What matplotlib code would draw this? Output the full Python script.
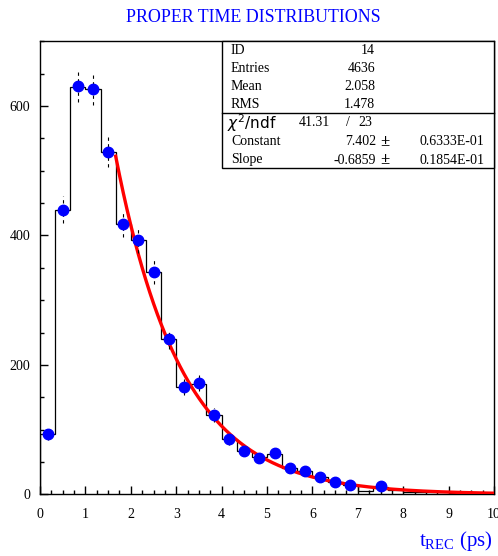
import numpy as np
import matplotlib
matplotlib.use("Agg")
import matplotlib.pyplot as plt
from matplotlib.patches import Rectangle
from matplotlib.ticker import MultipleLocator

plt.rcParams['font.family'] = ['Liberation Serif', 'DejaVu Serif']
plt.rcParams['mathtext.fontset'] = 'stix'

# ---- data ----
bin_edges = np.linspace(0, 10, 31)
hist_counts = [93, 440, 630, 627, 529, 418, 393, 344, 240, 166, 171, 123, 85, 67, 57,
               63, 40, 36, 26, 19, 14, 5, 12, 7, 4, 3, 3, 2, 2, 1]
point_x = [0.167, 0.5, 0.833, 1.167, 1.5, 1.833, 2.167, 2.5, 2.833, 3.167, 3.5, 3.833,
           4.167, 4.5, 4.833, 5.167, 5.5, 5.833, 6.167, 6.5, 6.833, 7.5]
point_y = [93, 440, 631, 627, 529, 418, 393, 344, 240, 166, 172, 123,
           85, 67, 56, 64, 40, 36, 26, 19, 14, 13]
fit_constant = 7.402
fit_slope = -0.6859
fit_range = (1.667, 10.0)

title = "PROPER TIME DISTRIBUTIONS"
stats_rows = [("ID", "14"), ("Entries", "4636"), ("Mean", "2.058"), ("RMS", "1.478")]
fit_rows = [("Constant", "7.402", "0.6333E-01"), ("Slope", "-0.6859", "0.1854E-01")]
chi2_text = ("41.31", "/", "23")

W, H = 498, 556
fig = plt.figure(figsize=(W / 100, H / 100), dpi=100)

def fx(px):
    return px / W

def fy(py):
    return 1 - py / H

ax_l, ax_r, ax_t, ax_b = 40, 494, 40.7, 494.3
ax = fig.add_axes([fx(ax_l), fy(ax_b), fx(ax_r) - fx(ax_l), fy(ax_t) - fy(ax_b)])

ax.stairs(hist_counts, bin_edges, color='black', lw=0.9)
xf = np.linspace(fit_range[0], fit_range[1], 300)
ax.plot(xf, np.exp(fit_constant + fit_slope * xf), color='red', lw=2.4, zorder=3)
eb = ax.errorbar(point_x, point_y, yerr=np.sqrt(point_y), fmt='o', color='blue',
                 ms=7.5, ecolor='black', elinewidth=0.8, capsize=0, zorder=4)
for c in eb[2]:
    c.set_linestyle((0, (3, 3)))

ax.set_xlim(0, 10)
ax.set_ylim(0, 701)
ax.xaxis.set_major_locator(MultipleLocator(1))
ax.xaxis.set_minor_locator(MultipleLocator(0.25))
ax.yaxis.set_major_locator(MultipleLocator(200))
ax.yaxis.set_minor_locator(MultipleLocator(50))
ax.tick_params(which='both', direction='in', top=False, right=False, width=1.0)
ax.tick_params(which='major', length=6, labelsize=10)
ax.tick_params(which='minor', length=3)
ax.tick_params(axis='x', which='major', pad=10)
ax.tick_params(axis='y', which='major', pad=7)
for s in ax.spines.values():
    s.set_linewidth(1.0)

fig.text(fx(253), fy(17), title, color='blue', fontsize=12.9, ha='center', va='center')
fig.text(fx(493), fy(541), r"$\mathregular{t_{REC}}$ (ps)", color='blue', fontsize=15,
         ha='right', va='center')

# stats box
bx0, bx1, by0, by1, bdiv = 222, 494, 40.7, 168, 112.5
fig.add_artist(Rectangle((fx(bx0), fy(by1)), fx(bx1) - fx(bx0), fy(by0) - fy(by1),
                         transform=fig.transFigure, fill=True, facecolor='white',
                         edgecolor='black', lw=1.0, zorder=10))
fig.add_artist(plt.Line2D([fx(bx0), fx(bx1)], [fy(bdiv), fy(bdiv)],
                          transform=fig.transFigure, color='black', lw=1.0, zorder=11))
fs = 10
row_y = [50, 68.5, 87, 105]
for (lab, val), yy in zip(stats_rows, row_y):
    fig.text(fx(231), fy(yy), lab, fontsize=fs, va='center', ha='left', zorder=12)
    fig.text(fx(375), fy(yy), val, fontsize=fs, va='center', ha='right', zorder=12)
fig.text(fx(227), fy(123), r"$\chi^2$/ndf", fontsize=fs + 1, va='center', ha='left',
         family=['DejaVu Sans'], zorder=12, math_fontfamily='dejavusans')
fig.text(fx(330), fy(123), chi2_text[0], fontsize=fs, va='center', ha='right', zorder=12)
fig.text(fx(348), fy(123), chi2_text[1], fontsize=fs, va='center', ha='center', zorder=12)
fig.text(fx(372), fy(123), chi2_text[2], fontsize=fs, va='center', ha='right', zorder=12)
for (lab, val, err), yy in zip(fit_rows, [141.5, 160]):
    fig.text(fx(231), fy(yy), lab, fontsize=fs, va='center', ha='left', zorder=12)
    fig.text(fx(376), fy(yy), val, fontsize=fs, va='center', ha='right', zorder=12)
    fig.text(fx(385), fy(yy), "\u00b1", fontsize=fs + 2, va='center', ha='center',
             weight='bold', zorder=12)
    fig.text(fx(484), fy(yy), err, fontsize=fs, va='center', ha='right', zorder=12)

fig.savefig("out.png", dpi=100)
